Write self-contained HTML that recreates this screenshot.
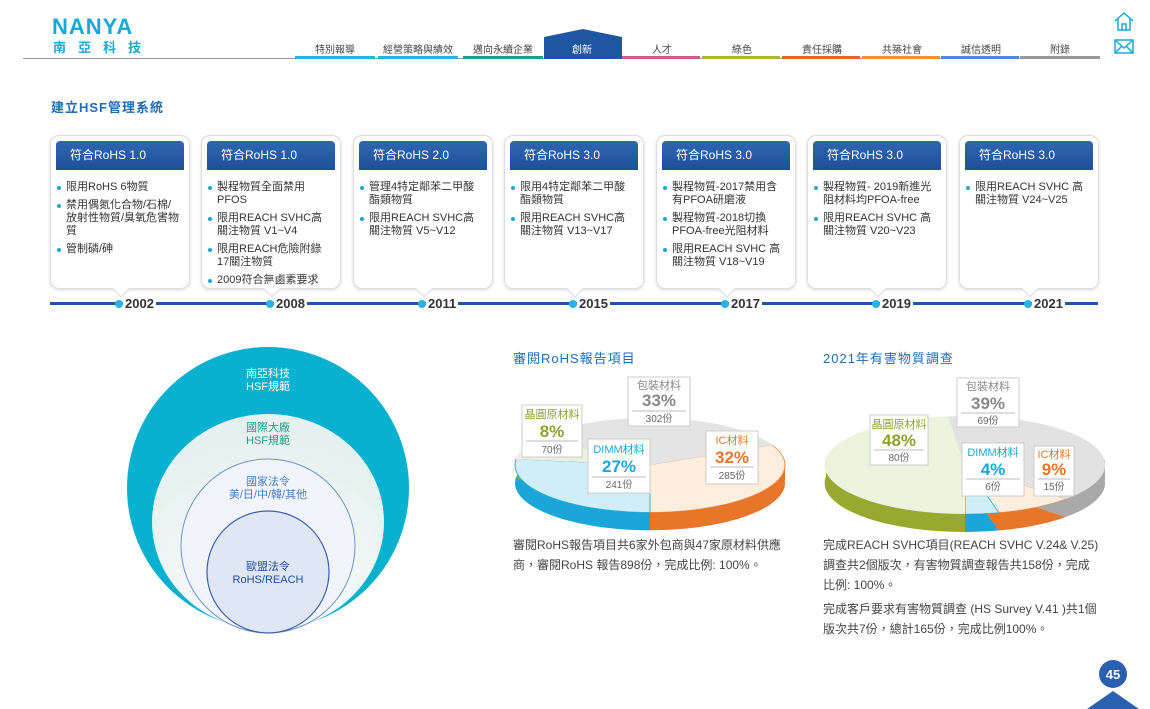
<!DOCTYPE html>
<html><head><meta charset="utf-8"><style>
*{margin:0;padding:0;box-sizing:border-box}
body{width:1150px;height:709px;position:relative;background:#fff;font-family:"Liberation Sans","Noto Sans CJK TC",sans-serif;overflow:hidden;color:#333}
.a{position:absolute}
.nav{position:absolute;top:41px;font-size:10px;color:#444;text-align:center;width:80px}
.ul{position:absolute;top:56px;height:3px}
.card{position:absolute;top:135px;width:140px;height:154px;border:1px solid #ddd;border-radius:9px;background:#fff;box-shadow:0 1px 3px rgba(0,0,0,.15)}
.card .h{position:absolute;left:5px;right:5px;top:5px;height:29px;background:linear-gradient(#2f66b0,#1f4f9a);color:#fff;font-size:12px;line-height:29px;padding-left:14px;border-radius:4px 4px 0 0}
.card ul{position:absolute;top:45px;left:6px;right:8px;list-style:none;font-size:11px;line-height:13px;color:#333}
.card li{position:relative;padding-left:9px;margin-bottom:5px}
.card li:before{content:"";position:absolute;left:0;top:5px;width:4px;height:4px;border-radius:2px;background:#1fa7d6}
.tri{position:absolute;bottom:-7px;width:12px;height:12px;background:#fff;border-right:1px solid #ddd;border-bottom:1px solid #ddd;transform:rotate(45deg)}
.yr{position:absolute;top:296px;font-size:13px;font-weight:bold;color:#333;background:#fff;padding:0 2px}
.dot{position:absolute;top:300px;width:8px;height:8px;border-radius:4px;background:#29b3e3}
.t{position:absolute;font-size:12px;color:#444;line-height:20px}
</style></head><body>
<div class="a" style="left:52px;top:14px;font-size:22px;font-weight:bold;color:#18a9d8;letter-spacing:1px">NANYA</div>
<div class="a" style="left:53px;top:37px;font-size:13px;color:#18a9d8;letter-spacing:12px;font-weight:bold">南亞科技</div>
<div class="a" style="left:23px;top:58px;width:1077px;height:1px;background:#999"></div>
<div class="nav" style="left:295px">特別報導</div>
<div class="nav" style="left:378px">經營策略與績效</div>
<div class="nav" style="left:463px">邁向永續企業</div>
<svg class="a" style="left:544px;top:29px" width="78" height="30"><polygon points="0,8 39,0 78,8 78,30 0,30" fill="#1f56a3"/></svg>
<div class="nav" style="left:542px;color:#fff">創新</div>
<div class="nav" style="left:622px">人才</div>
<div class="nav" style="left:702px">綠色</div>
<div class="nav" style="left:782px">責任採購</div>
<div class="nav" style="left:862px">共築社會</div>
<div class="nav" style="left:941px">誠信透明</div>
<div class="nav" style="left:1020px">附錄</div>
<div class="ul" style="left:295px;width:80px;background:#27b6d8"></div>
<div class="ul" style="left:378px;width:80px;background:#27b6d8"></div>
<div class="ul" style="left:463px;width:80px;background:#2a9a8c"></div>
<div class="ul" style="left:622px;width:78px;background:#c8608a"></div>
<div class="ul" style="left:702px;width:78px;background:#a9b83a"></div>
<div class="ul" style="left:782px;width:78px;background:#d9692d"></div>
<div class="ul" style="left:862px;width:78px;background:#ee9240"></div>
<div class="ul" style="left:941px;width:78px;background:#4a8ed0"></div>
<div class="ul" style="left:1020px;width:80px;background:#999"></div>
<svg class="a" style="left:1113px;top:11px" width="22" height="46" fill="none" stroke="#18a9d8" stroke-width="1.5"><path d="M2 10 L11 2 L20 10 M5 8 V19 H17 V8 M9 19 V13 H13 V19"/><rect x="2" y="29" width="18" height="13"/><path d="M2 29 L11 37 L20 29 M2 42 L9 35 M20 42 L13 35"/></svg>
<div class="a" style="left:51px;top:97px;font-size:13px;font-weight:bold;color:#1f6db5;letter-spacing:1px">建立HSF管理系統</div>

<div class="a" style="left:50px;top:302px;width:1048px;height:3px;background:#1f56a3"></div>

<div class="card" style="left:50px"><div class="h">符合RoHS 1.0</div><ul><li>限用RoHS 6物質</li><li>禁用偶氮化合物/石棉/放射性物質/臭氧危害物質</li><li>管制磷/砷</li></ul><div class="tri" style="left:64px"></div></div>
<div class="card" style="left:201px"><div class="h">符合RoHS 1.0</div><ul><li>製程物質全面禁用PFOS</li><li>限用REACH SVHC高關注物質 V1~V4</li><li>限用REACH危險附錄17關注物質</li><li>2009符合無鹵素要求</li></ul><div class="tri" style="left:64px"></div></div>
<div class="card" style="left:353px"><div class="h">符合RoHS 2.0</div><ul><li>管理4特定鄰苯二甲酸酯類物質</li><li>限用REACH SVHC高關注物質 V5~V12</li></ul><div class="tri" style="left:64px"></div></div>
<div class="card" style="left:504px"><div class="h">符合RoHS 3.0</div><ul><li>限用4特定鄰苯二甲酸酯類物質</li><li>限用REACH SVHC高關注物質 V13~V17</li></ul><div class="tri" style="left:64px"></div></div>
<div class="card" style="left:656px"><div class="h">符合RoHS 3.0</div><ul><li>製程物質-2017禁用含有PFOA研磨液</li><li>製程物質-2018切換PFOA-free光阻材料</li><li>限用REACH SVHC 高關注物質 V18~V19</li></ul><div class="tri" style="left:64px"></div></div>
<div class="card" style="left:807px"><div class="h">符合RoHS 3.0</div><ul><li>製程物質- 2019新進光阻材料均PFOA-free</li><li>限用REACH SVHC 高關注物質 V20~V23</li></ul><div class="tri" style="left:64px"></div></div>
<div class="card" style="left:959px"><div class="h">符合RoHS 3.0</div><ul><li>限用REACH SVHC 高關注物質 V24~V25</li></ul><div class="tri" style="left:64px"></div></div>

<div class="dot" style="left:115px"></div><div class="yr" style="left:123px">2002</div>
<div class="dot" style="left:266px"></div><div class="yr" style="left:274px">2008</div>
<div class="dot" style="left:418px"></div><div class="yr" style="left:426px">2011</div>
<div class="dot" style="left:569px"></div><div class="yr" style="left:577px">2015</div>
<div class="dot" style="left:721px"></div><div class="yr" style="left:729px">2017</div>
<div class="dot" style="left:872px"></div><div class="yr" style="left:880px">2019</div>
<div class="dot" style="left:1024px"></div><div class="yr" style="left:1032px">2021</div>

<svg class="a" style="left:0;top:330px" width="450" height="330">
<defs><radialGradient id="g2" cx="50%" cy="80%" r="70%"><stop offset="0" stop-color="#fff"/><stop offset="1" stop-color="#e4f1ee"/></radialGradient></defs>
<circle cx="268" cy="158" r="141" fill="#07b1cf"/>
<ellipse cx="268" cy="192" rx="116" ry="108" fill="url(#g2)"/>
<circle cx="268" cy="216" r="87" fill="#f1f5fb" stroke="#6f92cf" stroke-width="1"/>
<circle cx="268" cy="242" r="61" fill="#dfe6f4" stroke="#3a5fb0" stroke-width="1.2"/>
<g font-size="11" text-anchor="middle">
<text x="268" y="47" fill="#fff">南亞科技</text><text x="268" y="60" fill="#fff">HSF規範</text>
<text x="268" y="101" fill="#2a9a8c">國際大廠</text><text x="268" y="114" fill="#2a9a8c">HSF規範</text>
<text x="268" y="155" fill="#4a7bc0">國家法令</text><text x="268" y="168" fill="#4a7bc0">美/日/中/韓/其他</text>
<text x="268" y="240" fill="#1f4f9a">歐盟法令</text><text x="268" y="253" fill="#1f4f9a">RoHS/REACH</text>
</g></svg>

<div class="a" style="left:513px;top:348px;font-size:13px;color:#1f6db5;letter-spacing:1px">審閱RoHS報告項目</div>
<div class="a" style="left:823px;top:348px;font-size:13px;color:#1f6db5;letter-spacing:1px">2021年有害物質調查</div>

<svg class="a" style="left:0;top:0" width="1150" height="709">
<g transform="translate(650,483) scale(1,0.35)">
<path d="M0 0 L122.3 -57.1 A135 135 0 0 1 0 135Z" fill="#e8762a"/>
<path d="M0 0 L0 135 A135 135 0 0 1 -134 -16.5Z" fill="#1aa6d8"/>
<path d="M0 0 L-134 -16.5 A135 135 0 0 1 -109.2 -79.4Z" fill="#8fa22a"/>
<path d="M0 0 L-109.2 -79.4 A135 135 0 0 1 122.3 -57.1Z" fill="#a9a9a9"/>
</g>
<rect x="518" y="460" width="8" height="20" fill="#8fa22a"/><rect x="777" y="460" width="8" height="20" fill="#e8762a"/>
<g transform="translate(650,465) scale(1,0.35)">
<path d="M0 0 L122.3 -57.1 A135 135 0 0 1 0 135Z" fill="#fdeedd" stroke="#f08a3a"/>
<path d="M0 0 L0 135 A135 135 0 0 1 -134 -16.5Z" fill="#cfeef8" stroke="#2ab3e0"/>
<path d="M0 0 L-134 -16.5 A135 135 0 0 1 -109.2 -79.4Z" fill="#eaf0dc"/>
<path d="M0 0 L-109.2 -79.4 A135 135 0 0 1 122.3 -57.1Z" fill="#e4e4e4"/>
</g>
<g transform="translate(965,483) scale(1,0.35)">
<path d="M0 0 L100.7 97.3 A140 140 0 0 1 33.9 135.8Z" fill="#e8762a"/>
<path d="M0 0 L33.9 135.8 A140 140 0 0 1 0 140Z" fill="#1aa6d8"/>
<path d="M0 0 L0 140 A140 140 0 0 1 -17.1 -139Z" fill="#98a830"/>
<path d="M0 0 L-17.1 -139 A140 140 0 0 1 100.7 97.3Z" fill="#a9a9a9"/>
</g>
<rect x="826" y="460" width="8" height="20" fill="#98a830"/><rect x="1096" y="460" width="9" height="20" fill="#a9a9a9"/>
<g transform="translate(965,465) scale(1,0.35)">
<path d="M0 0 L100.7 97.3 A140 140 0 0 1 33.9 135.8Z" fill="#fdeedd" stroke="#f08a3a"/>
<path d="M0 0 L33.9 135.8 A140 140 0 0 1 0 140Z" fill="#cfeef8" stroke="#2ab3e0"/>
<path d="M0 0 L0 140 A140 140 0 0 1 -17.1 -139Z" fill="#eef3de"/>
<path d="M0 0 L-17.1 -139 A140 140 0 0 1 100.7 97.3Z" fill="#e2e2e2"/>
</g>
<g font-family="Liberation Sans,Noto Sans CJK TC,sans-serif" text-anchor="middle">
<g fill="#fff" stroke="#ccc">
<rect x="628" y="377" width="62" height="49"/><rect x="522" y="405" width="60" height="52"/><rect x="588" y="439" width="62" height="54"/><rect x="706" y="431" width="52" height="53"/>
<rect x="957" y="378" width="62" height="49"/><rect x="870" y="415" width="58" height="50"/><rect x="962" y="443" width="62" height="53"/><rect x="1034" y="446" width="40" height="50"/>
</g>
<g font-size="11">
<text x="659" y="389" fill="#888">包裝材料</text><text x="659" y="422" fill="#666" font-size="10">302份</text>
<text x="552" y="418" fill="#8fa22a">晶圓原材料</text><text x="552" y="453" fill="#666" font-size="10">70份</text>
<text x="619" y="453" fill="#1aa6d8">DIMM材料</text><text x="619" y="488" fill="#666" font-size="10">241份</text>
<text x="732" y="444" fill="#e8762a">IC材料</text><text x="732" y="479" fill="#666" font-size="10">285份</text>
<text x="988" y="390" fill="#888">包裝材料</text><text x="988" y="424" fill="#666" font-size="10">69份</text>
<text x="899" y="428" fill="#8fa22a">晶圓原材料</text><text x="899" y="461" fill="#666" font-size="10">80份</text>
<text x="993" y="456" fill="#1aa6d8">DIMM材料</text><text x="993" y="490" fill="#666" font-size="10">6份</text>
<text x="1054" y="458" fill="#e8762a">IC材料</text><text x="1054" y="490" fill="#666" font-size="10">15份</text>
</g>
<g font-size="17" font-weight="bold">
<text x="659" y="406" fill="#888">33%</text><text x="552" y="437" fill="#8fa22a">8%</text><text x="619" y="472" fill="#1aa6d8">27%</text><text x="732" y="463" fill="#e8762a">32%</text>
<text x="988" y="409" fill="#888">39%</text><text x="899" y="446" fill="#8fa22a">48%</text><text x="993" y="475" fill="#1aa6d8">4%</text><text x="1054" y="475" fill="#e8762a">9%</text>
</g>
<g stroke="#bbb"><line x1="632" y1="411" x2="686" y2="411"/><line x1="526" y1="441" x2="578" y2="441"/><line x1="592" y1="477" x2="646" y2="477"/><line x1="710" y1="467" x2="754" y2="467"/><line x1="961" y1="413" x2="1015" y2="413"/><line x1="874" y1="450" x2="924" y2="450"/><line x1="966" y1="479" x2="1020" y2="479"/><line x1="1038" y1="479" x2="1070" y2="479"/></g>
</g>
<circle cx="1113" cy="674" r="14" fill="#2b5fb0"/>
<text x="1113" y="679" font-size="13" font-weight="bold" fill="#fff" text-anchor="middle" font-family="Liberation Sans">45</text>
<polygon points="1087,709 1113,691 1139,709" fill="#2b5fb0"/>
</svg>

<div class="t" style="left:513px;top:535px;width:275px">審閱RoHS報告項目共6家外包商與47家原材料供應商，審閱RoHS 報告898份，完成比例: 100%。</div>
<div class="t" style="left:823px;top:535px;width:277px">完成REACH SVHC項目(REACH SVHC V.24&amp; V.25)調查共2個版次，有害物質調查報告共158份，完成比例: 100%。</div>
<div class="t" style="left:823px;top:599px;width:277px">完成客戶要求有害物質調查 (HS Survey V.41 )共1個版次共7份，總計165份，完成比例100%。</div>
</body></html>
